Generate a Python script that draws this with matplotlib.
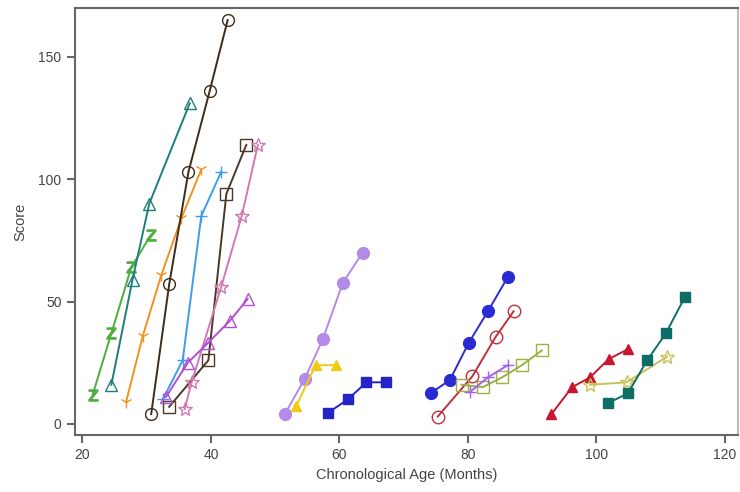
import matplotlib
matplotlib.use('Agg')
from matplotlib import pyplot as plt

plt.rcParams['font.family'] = ['Liberation Sans', 'DejaVu Sans']

# each child: ages (months) and scores
green_z_x = [21.6, 24.5, 27.6, 30.6]
green_z_y = [12, 37, 64, 77]
teal_tri_x = [24.5, 27.8, 30.4, 36.7]
teal_tri_y = [16, 59, 90, 131]
orange_y_x = [26.8, 29.4, 32.3, 35.4, 38.5]
orange_y_y = [9, 36, 61, 84, 104]
brown_circ_x = [30.7, 33.5, 36.5, 39.8, 42.6]
brown_circ_y = [4, 57, 103, 136, 165]
blue_plus_x = [32.5, 35.6, 38.5, 41.6]
blue_plus_y = [10, 26, 85, 103]
brown_sq_x = [33.5, 39.6, 42.4, 45.5]
brown_sq_y = [7, 26, 94, 114]
pink_star_x = [35.9, 37.0, 41.6, 44.8, 47.3]
pink_star_y = [6, 17, 56, 85, 114]
purple_tri_x = [33.0, 36.4, 39.5, 42.9, 45.7]
purple_tri_y = [11, 25, 33, 42, 51]

lav_circ_x = [51.5, 54.6, 57.4, 60.5, 63.6]
lav_circ_y = [4, 18.5, 34.5, 57.5, 70]
yel_tri_x = [53.3, 56.3, 59.4]
yel_tri_y = [7.5, 24, 24]
blue_sq_x = [58.2, 61.3, 64.2, 67.3]
blue_sq_y = [4.5, 10, 17, 17]

blue_circ_x = [74.2, 77.2, 80.1, 83.1, 86.2]
blue_circ_y = [12.5, 18, 33, 46, 60]
red_circ_x = [75.3, 80.7, 84.3, 87.1]
red_circ_y = [3, 19.5, 35.5, 46]
olive_sq_x = [79.0, 82.3, 85.3, 88.4, 91.5]
olive_sq_y = [16, 15, 19, 24, 30]
violet_plus_x = [80.3, 83.1, 86.2]
violet_plus_y = [13, 19, 24]

red_tri_x = [93.0, 96.2, 99.0, 101.9, 104.9]
red_tri_y = [4, 15, 19, 26.5, 30.5]
star_x = [99.0, 104.7, 111.0]
star_y = [16, 17, 27.5]
teal_sq_x = [101.8, 104.9, 107.9, 110.8, 113.8]
teal_sq_y = [8.5, 12.5, 26, 37, 52]

fig = plt.figure(figsize=(7.4, 4.92), dpi=100)
ax = fig.add_axes([0.101, 0.116, 0.896, 0.868])

def open_line(x, y, c, m, ms=8):
    ax.plot(x, y, color=c, lw=1.4, marker=m, ms=ms, mfc='none', mec=c, mew=1.0)

def filled_line(x, y, c, m, ms=7.5):
    ax.plot(x, y, color=c, lw=1.4, marker=m, ms=ms, mfc=c, mec=c)

open_line(green_z_x, green_z_y, '#4cae3f', '$\\mathsf{Z}$', 8)
open_line(teal_tri_x, teal_tri_y, '#1e7f78', '^')
open_line(orange_y_x, orange_y_y, '#f0931c', '1', 9)
open_line(brown_circ_x, brown_circ_y, '#3d2b1c', 'o', 8.5)
open_line(blue_plus_x, blue_plus_y, '#3f9bf0', '+', 9)
open_line(brown_sq_x, brown_sq_y, '#4a3828', 's')
open_line(pink_star_x, pink_star_y, '#d07ab0', '*', 10)
open_line(purple_tri_x, purple_tri_y, '#b04fd0', '^')

filled_line(lav_circ_x, lav_circ_y, '#b38ae8', 'o', 8.5)
filled_line(yel_tri_x, yel_tri_y, '#eecb14', '^')
filled_line(blue_sq_x, blue_sq_y, '#2424c8', 's', 7)

filled_line(blue_circ_x, blue_circ_y, '#2a2ad2', 'o', 8.5)
open_line(red_circ_x, red_circ_y, '#c0303a', 'o', 9)
open_line(olive_sq_x, olive_sq_y, '#9fb045', 's', 9)
open_line(violet_plus_x, violet_plus_y, '#a55ef0', '+', 8)

filled_line(red_tri_x, red_tri_y, '#c81530', '^')
open_line(star_x, star_y, '#c8c25a', '*', 10)
filled_line(teal_sq_x, teal_sq_y, '#0e6e66', 's', 7)

ax.set_xlim(18.8, 122)
ax.set_ylim(-4.5, 170)
ax.set_xticks([20, 40, 60, 80, 100, 120])
ax.set_yticks([0, 50, 100, 150])
ax.tick_params(direction='out', length=6, width=1.5, color='#666666',
               labelsize=10, labelcolor='#444444')
for s in ['left', 'bottom', 'top']:
    ax.spines[s].set_color('#666666')
    ax.spines[s].set_linewidth(1.5)
ax.spines['right'].set_color('#bbbbbb')
ax.spines['right'].set_linewidth(1.5)

ax.set_xlabel('Chronological Age (Months)', fontsize=10.5, color='#444444')
ax.set_ylabel('Score', fontsize=10.5, color='#444444', labelpad=8)

fig.savefig('out.png', dpi=100)
